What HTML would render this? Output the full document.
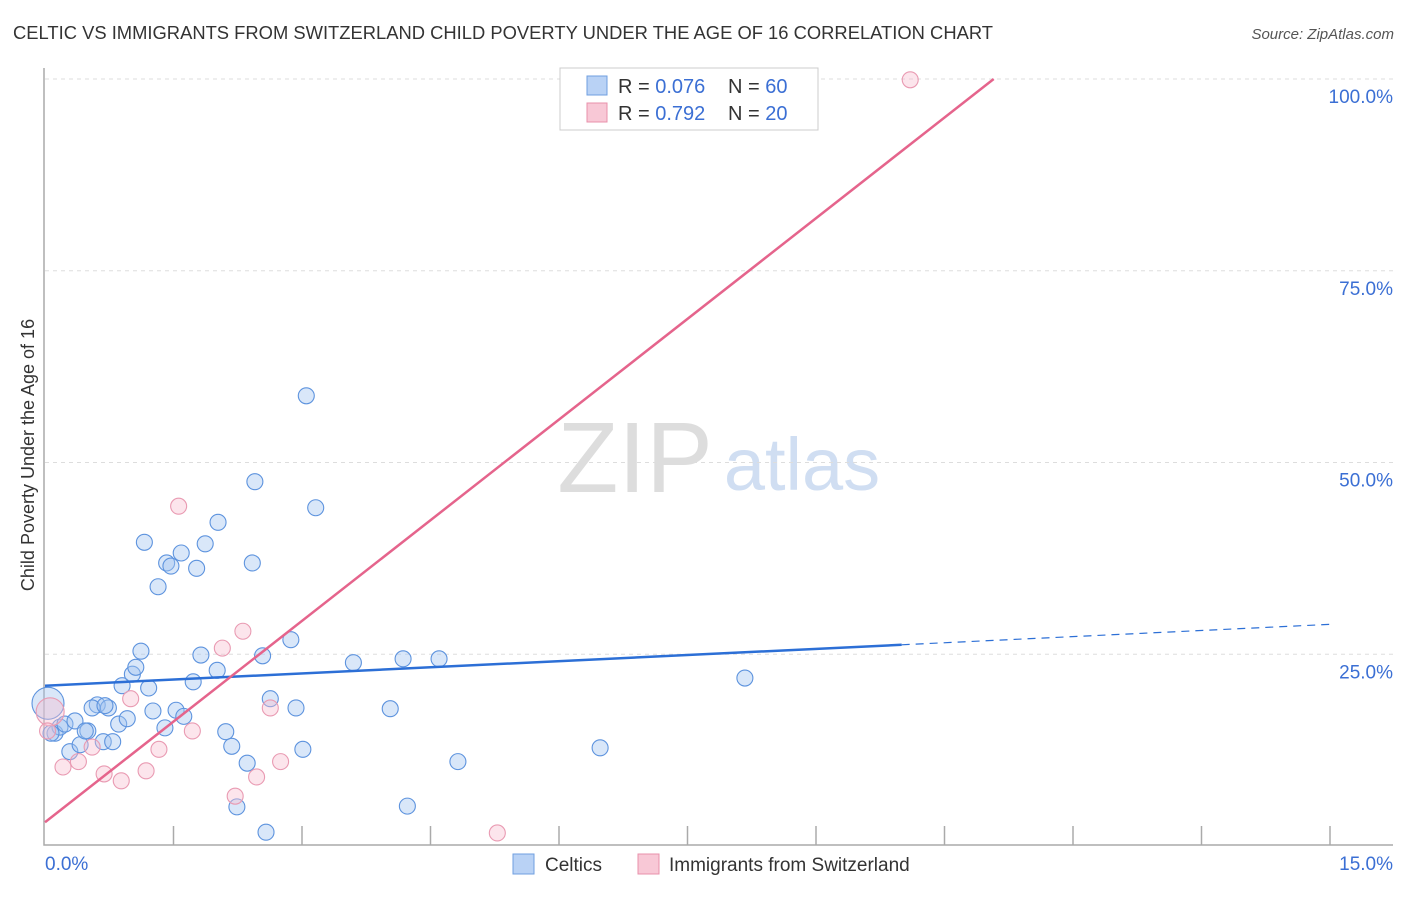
<!DOCTYPE html>
<html><head><meta charset="utf-8"><style>
body{margin:0;background:#fff;font-family:"Liberation Sans",sans-serif;}
svg text{font-family:"Liberation Sans",sans-serif;}
</style></head><body>
<svg id="chart" width="1406" height="892" xmlns="http://www.w3.org/2000/svg">
<text x="13" y="39" font-size="18" fill="#333" textLength="980" lengthAdjust="spacingAndGlyphs">CELTIC VS IMMIGRANTS FROM SWITZERLAND CHILD POVERTY UNDER THE AGE OF 16 CORRELATION CHART</text>
<text x="1394" y="39" font-size="15" fill="#555" text-anchor="end" font-style="italic">Source: ZipAtlas.com</text>
<text transform="translate(34,455) rotate(-90)" font-size="18" fill="#333" text-anchor="middle">Child Poverty Under the Age of 16</text>
<g>
<text x="635" y="492" font-size="100" fill="#ddd" font-family="Liberation Serif" text-anchor="middle">ZIP</text>
<text x="802" y="490" font-size="74" fill="#d0def2" text-anchor="middle">atlas</text>
</g>
<g id="grid"></g><g id="axes"></g><g id="marks"></g>
<g>
<rect x="560" y="68" width="258" height="62" fill="#fff" stroke="#ccc"/>
<rect x="587" y="76" width="20" height="19" fill="#b9d2f5" stroke="#6f9fe0"/>
<text x="618" y="93" font-size="20" fill="#333">R = <tspan fill="#3b6fd4">0.076</tspan></text>
<text x="728" y="93" font-size="20" fill="#333">N = <tspan fill="#3b6fd4">60</tspan></text>
<rect x="587" y="103" width="20" height="19" fill="#f8c8d6" stroke="#e890ab"/>
<text x="618" y="120" font-size="20" fill="#333">R = <tspan fill="#3b6fd4">0.792</tspan></text>
<text x="728" y="120" font-size="20" fill="#333">N = <tspan fill="#3b6fd4">20</tspan></text>
</g>
<g>
<rect x="513" y="854" width="21" height="20" fill="#b9d2f5" stroke="#6f9fe0"/>
<text x="545" y="871" font-size="19" fill="#333">Celtics</text>
<rect x="638" y="854" width="21" height="20" fill="#f8c8d6" stroke="#e890ab"/>
<text x="669" y="871" font-size="19" fill="#333">Immigrants from Switzerland</text>
</g>
</svg>
<script>
const yTicks=[25,50,75,100];
const yTickLabels=["25.0%","50.0%","75.0%","100.0%"];
const xTickCount=10;
const celticX=[0.035,0.117,0.175,0.233,0.35,0.29,0.41,0.50,0.61,0.55,0.68,0.74,0.70,0.79,0.86,0.90,0.96,1.02,1.06,1.12,1.16,1.21,1.26,1.32,1.40,1.42,1.47,1.53,1.59,1.62,1.73,1.77,1.82,1.87,2.01,2.02,2.11,2.18,2.24,2.36,2.42,2.45,2.54,2.58,2.63,2.93,2.87,3.01,3.05,3.16,3.60,4.03,4.18,4.23,4.60,4.82,6.48,8.17,0.07,0.47];
const celticY=[18.6,14.7,15.5,15.9,16.3,12.3,13.2,15.0,18.4,18.0,13.6,18.0,18.3,13.6,15.9,20.9,16.6,22.4,23.3,25.4,39.6,20.6,17.6,33.8,15.4,36.9,36.5,17.7,38.2,16.9,21.4,36.2,24.9,39.4,22.9,42.2,14.9,13.0,5.1,10.8,36.9,47.5,24.8,1.8,19.2,18.0,26.9,12.6,58.7,44.1,23.9,17.9,24.4,5.2,24.4,11.0,12.8,21.9,14.7,15.0];
const swissX=[0.06,0.21,0.39,0.55,0.69,0.89,1.00,1.18,1.33,1.56,1.72,2.07,2.22,2.31,2.47,2.63,2.75,5.28,10.10,0.03];
const swissY=[17.5,10.3,11.0,12.9,9.4,8.5,19.2,9.8,12.6,44.3,15.0,25.8,6.5,28.0,9.0,18.0,11.0,1.7,99.9,15.0];
const celticTrend=[20.9,28.9];
const swissTrend=[3.1,8.75];
const X0=45,X1=1330,Y0=846,YS=7.67;
const xs=v=>X0+v/15*(X1-X0);
const ys=v=>Y0-v*YS;
const NS="http://www.w3.org/2000/svg";
function mk(t,a,p){const e=document.createElementNS(NS,t);for(const k in a)e.setAttribute(k,a[k]);p.appendChild(e);return e;}
const grid=document.getElementById('grid'),axes=document.getElementById('axes'),marks=document.getElementById('marks');
yTicks.forEach((t,i)=>{
 const l=mk('line',{x1:X0,x2:1393,y1:ys(t),y2:ys(t),stroke:'#ddd','stroke-dasharray':'4,4'},grid);
 
 
 const tx=mk('text',{x:1393,y:ys(t)+24,'font-size':19,fill:'#3b6fd4','text-anchor':'end'},axes);
 tx.textContent=yTickLabels[i];
 
 
});
const ax=mk('path',{d:`M${X0-1} 68 V${Y0-1} H1393`,fill:'none',stroke:'#aaa','stroke-width':1.5},axes);


for(let i=1;i<=xTickCount;i++){
 const t=mk('line',{x1:xs(i*1.5),x2:xs(i*1.5),y1:826,y2:845,stroke:'#aaa','stroke-width':1.5},axes);
 
 
}
const xl=mk('text',{x:45,y:870,'font-size':19,fill:'#3b6fd4'},axes);xl.textContent='0.0%';


const xr=mk('text',{x:1393,y:870,'font-size':19,fill:'#3b6fd4','text-anchor':'end'},axes);xr.textContent='15.0%';


celticX.forEach((x,i)=>{
 const c=mk('circle',{cx:xs(x),cy:ys(celticY[i]),r:i==0?16:8,fill:'rgba(160,196,240,0.4)',stroke:'#5d93de','stroke-width':1.1},marks);
 
 
});
swissX.forEach((x,i)=>{
 const c=mk('circle',{cx:xs(x),cy:ys(swissY[i]),r:i==0?14:8,fill:'rgba(248,190,208,0.4)',stroke:'#e99ab2','stroke-width':1.1},marks);
 
 
});
const cy=v=>celticTrend[0]+(celticTrend[1]-celticTrend[0])*v/15;
const bl=mk('line',{x1:xs(0),y1:ys(cy(0)),x2:xs(10),y2:ys(cy(10)),stroke:'#2c6fd6','stroke-width':2.5},marks);


const bd=mk('line',{x1:xs(10),y1:ys(cy(10)),x2:xs(15),y2:ys(cy(15)),stroke:'#2c6fd6','stroke-width':1.2,'stroke-dasharray':'8,6'},marks);


const xEnd=(100-swissTrend[0])/swissTrend[1];
const pl=mk('line',{x1:xs(0),y1:ys(swissTrend[0]),x2:xs(xEnd),y2:ys(100),stroke:'#e5648c','stroke-width':2.5},marks);


</script>
</body></html>
